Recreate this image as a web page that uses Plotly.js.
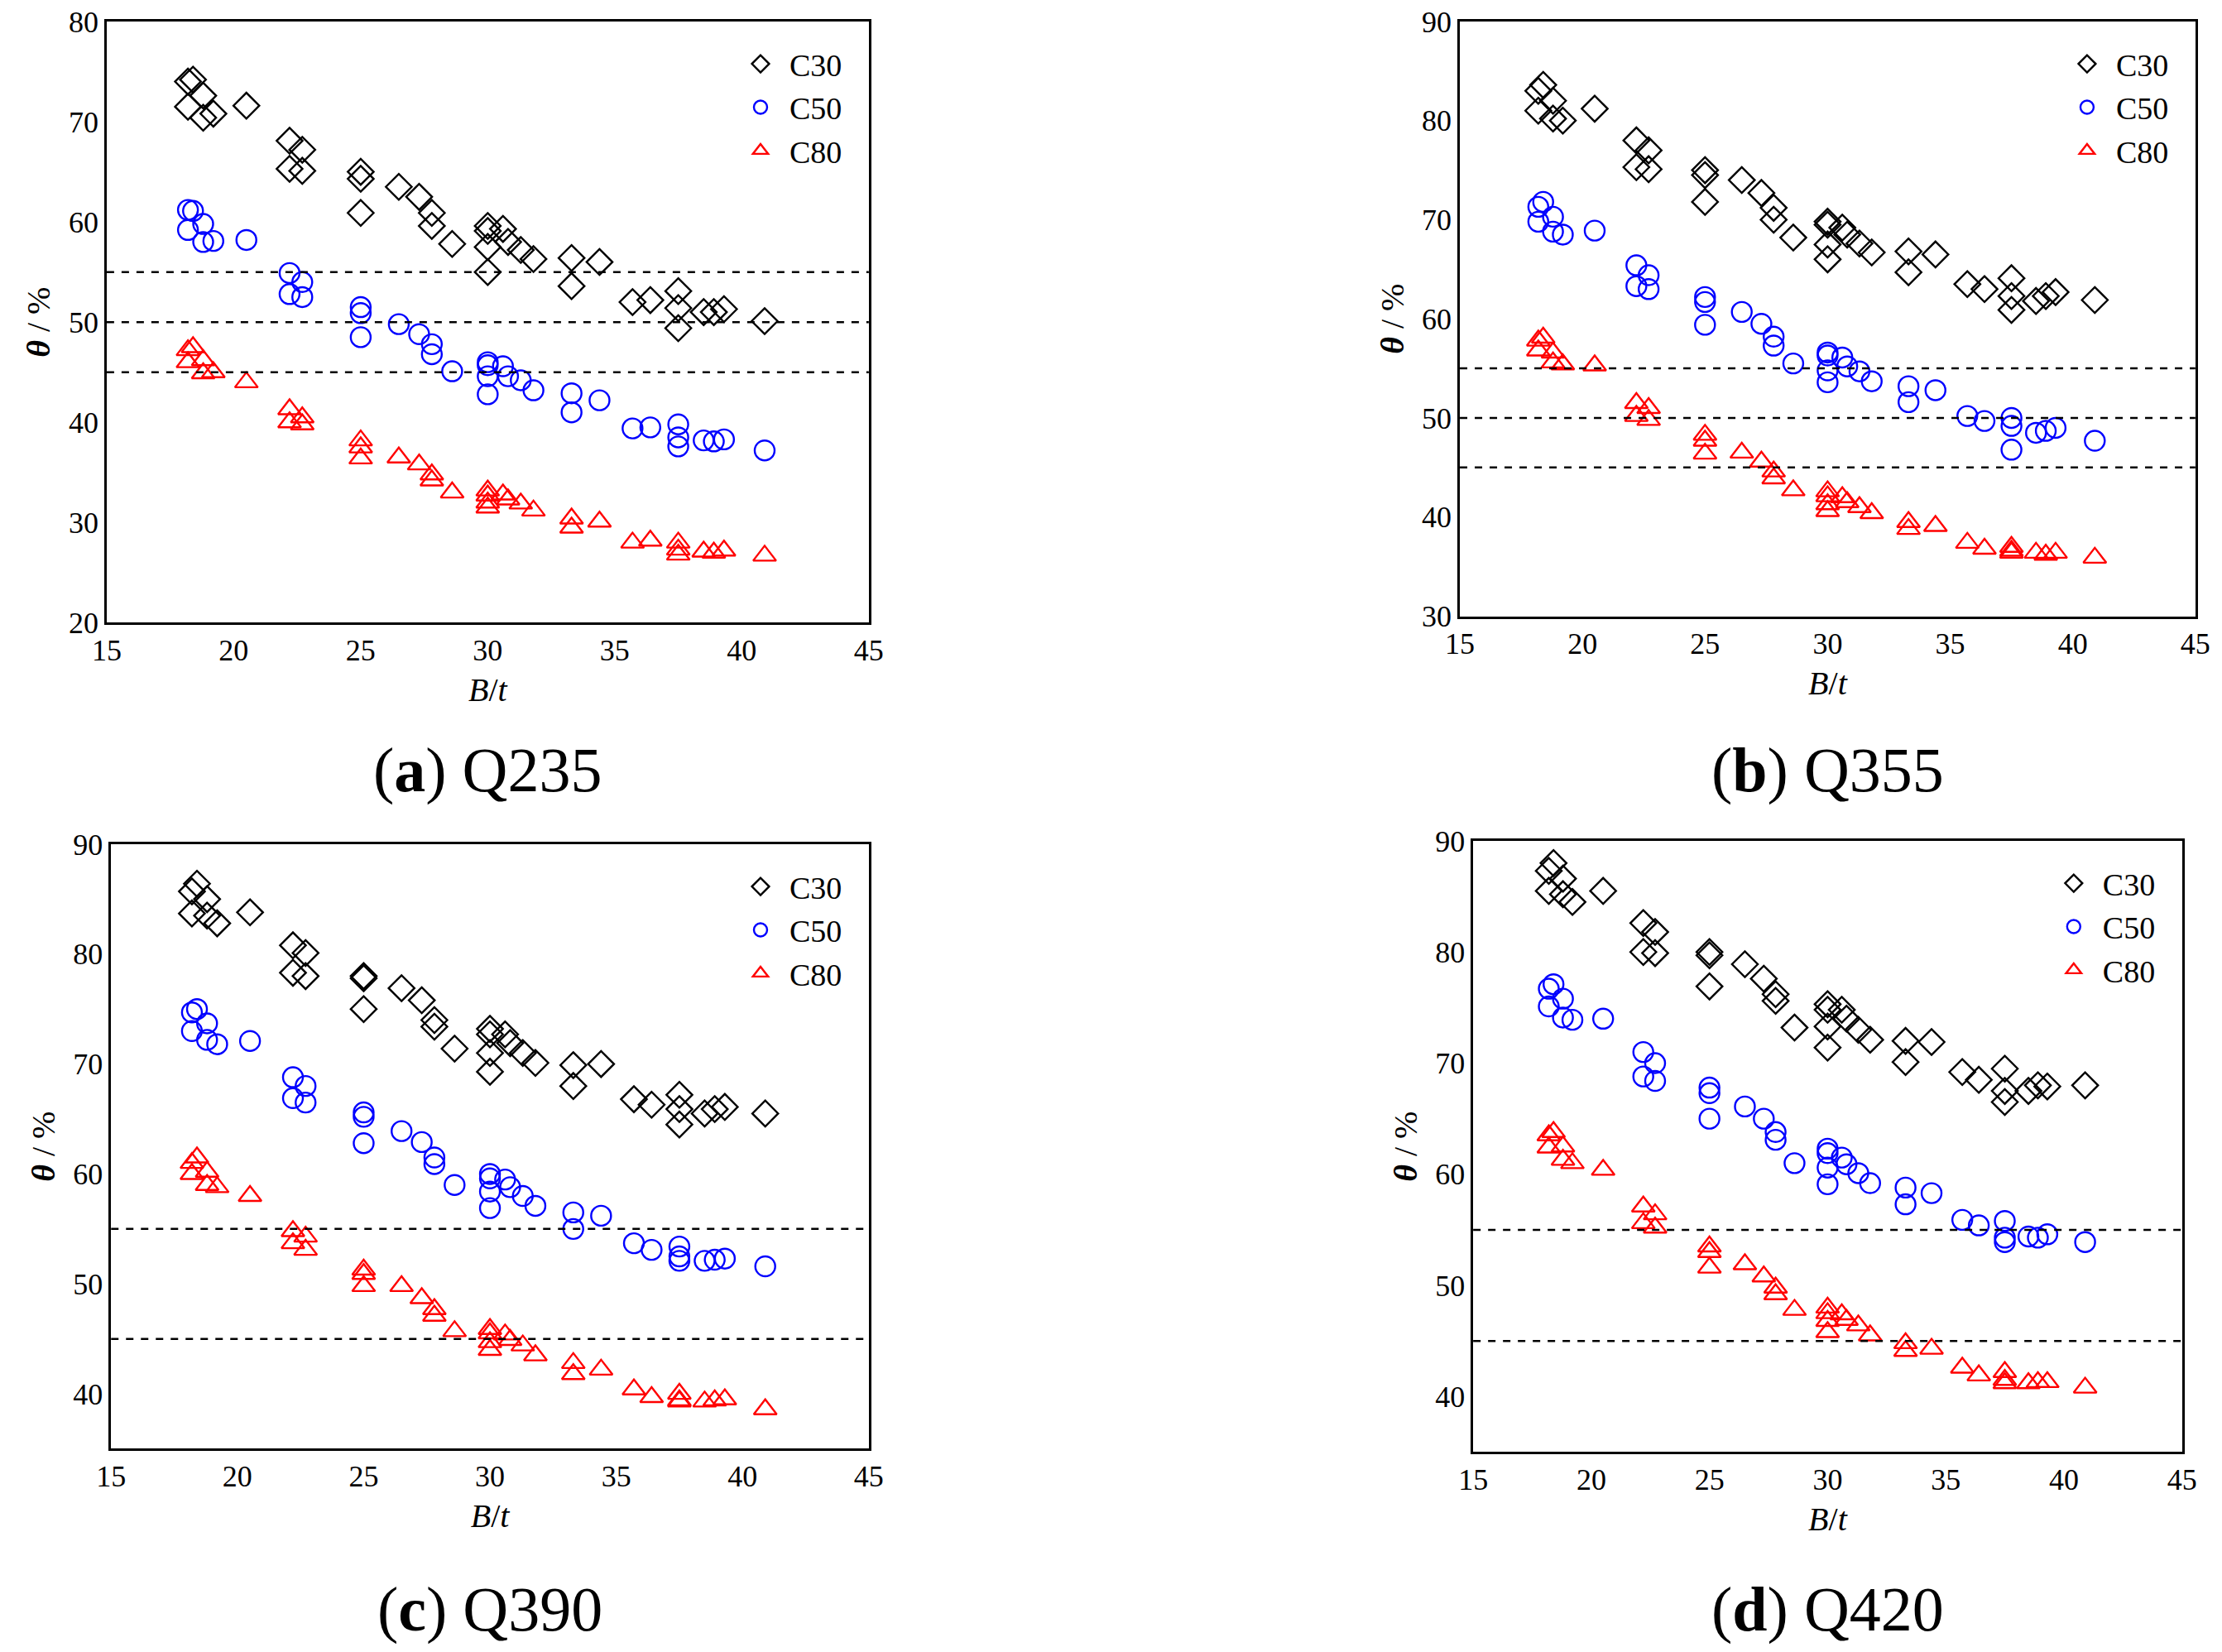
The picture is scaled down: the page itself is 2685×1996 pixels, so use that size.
<!DOCTYPE html>
<html><head><meta charset="utf-8">
<script src="https://cdn.plot.ly/plotly-3.0.1.min.js"></script>
<style>body{margin:0}#chart{width:2685px;height:1996px}</style>
</head><body><div id="chart"></div>
<script>
// B/t values shared by all panels
const bt = [18.2,18.4,18.2,18.8,18.8,19.2,20.5,22.2,22.2,22.7,22.7,25,25,25,26.5,27.3,27.8,27.8,28.6,30,30,30,30,30.6,30.8,31.3,31.8,33.3,33.3,34.4,35.7,36.4,37.5,37.5,37.5,38.5,38.9,39.3,40.9];

// (a) Q235
const aC30 = [74,74.2,71.5,72.6,70.4,70.8,71.6,68.1,65.3,67.2,65.1,65,64.3,60.9,63.5,62.5,60.9,59.6,57.8,59.6,59.1,57.5,55,59.3,58,57.2,56.3,56.4,53.6,56,52,52.2,53.1,51.4,49.4,51,51,51.3,50.1];
const aC50 = [61.2,61.1,59.2,59.8,58,58.1,58.2,54.9,52.8,54,52.5,51.5,50.9,48.5,49.8,48.8,47.8,46.8,45.1,46,45.7,44.6,42.8,45.6,44.6,44.2,43.2,42.9,41,42.2,39.4,39.5,39.8,38.5,37.6,38.2,38.1,38.3,37.2];
const aC80 = [47.2,47.5,46,46.2,44.9,45,44,41.3,40,40.5,39.8,38.2,37.5,36.4,36.5,35.8,34.8,34.2,33,33.2,32.7,32,31.5,32.8,32.3,31.9,31.2,30.4,29.5,30.1,28,28.2,28,27.3,26.8,27.1,27,27.2,26.7];
// (b) Q355
const bC30 = [83,83.6,81,82,80.2,80,81.2,78,75.3,77,75.1,75,74.5,71.8,74,72.7,71.2,70,68.2,69.8,69.5,67.5,66,69.2,68.5,67.6,66.7,66.8,64.7,66.5,63.5,63,64.1,62.3,60.9,61.8,62.3,62.7,61.9];
const bC50 = [71.3,71.8,69.8,70.3,68.8,68.5,68.9,65.4,63.3,64.4,63,62.2,61.7,59.4,60.7,59.5,58.2,57.3,55.5,56.6,56.3,54.8,53.6,56.1,55.2,54.7,53.7,53.2,51.6,52.8,50.2,49.7,50,49.2,46.8,48.5,48.7,49,47.7];
const bC80 = [57.8,58.1,56.8,56.6,55.6,55.4,55.3,51.5,50.2,51,49.8,48.3,47.7,46.4,46.5,45.6,44.6,43.9,42.7,42.6,42.1,41.3,40.6,42,41.5,41,40.4,39.5,38.8,39.1,37.4,36.8,37,36.6,36.4,36.4,36.2,36.4,35.9];
// (c) Q390
const cC30 = [85.7,86.4,83.7,85,83.5,82.8,83.8,80.8,78.3,80.1,78,78,77.8,75,76.9,75.8,74,73.4,71.4,73.2,72.7,71,69.3,72.7,71.9,71,70.1,69.9,68,70,66.8,66.3,67.2,65.9,64.5,65.5,65.9,66.1,65.5];
const cC50 = [74.7,75,73,73.7,72.2,71.8,72.1,68.8,66.9,68,66.5,65.6,65.2,62.8,63.9,62.9,61.5,60.9,59,60,59.6,58.4,56.9,59.5,58.8,58,57.1,56.5,55,56.2,53.7,53.1,53.4,52.5,52.1,52.1,52.2,52.3,51.6];
const cC80 = [61,61.5,60,60.2,59,58.8,58,54.8,53.7,54.3,53.1,51.3,50.9,49.8,49.8,48.7,47.7,47.1,45.7,45.9,45.5,44.7,44,45.4,44.9,44.4,43.5,42.8,41.8,42.2,40.4,39.7,40,39.4,39.3,39.3,39.4,39.5,38.6];
// (d) Q420
const dC30 = [87.3,88,85.5,86.6,85.2,84.5,85.5,82.6,80,81.8,79.9,80,79.7,76.9,78.9,77.6,76.2,75.6,73.2,75.3,74.8,73.3,71.4,74.8,74,73,72.1,72,70.1,71.9,69.2,68.5,69.5,67.5,66.5,67.5,68,67.9,68];
const dC50 = [76.7,77.1,75.1,75.8,74.1,73.9,74,71,68.8,70,68.4,67.8,67.3,65,66.1,65,63.8,63.1,61,62.3,61.9,60.6,59.1,61.5,60.9,60.1,59.2,58.8,57.3,58.3,55.9,55.4,55.8,54.3,53.9,54.4,54.3,54.6,53.9];
const dC80 = [63.5,63.8,62.4,62.5,61.3,61,60.4,57.1,55.6,56.4,55.2,53.5,53,51.6,51.9,50.8,49.8,49.2,47.8,48,47.5,46.8,45.8,47.4,46.9,46.4,45.5,44.8,44.1,44.3,42.6,41.9,42.2,41.5,41.2,41.2,41.3,41.3,40.8];

const panelLabels = ['(a) Q235','(b) Q355','(c) Q390','(d) Q420'];
const limitLines = [[45,50,55],[45,50,55],[45,55],[45,55]];
const yRanges = [[20,80],[30,90],[35,90],[35,90]];
const yTicks = [[20,30,40,50,60,70,80],[30,40,50,60,70,80,90],[40,50,60,70,80,90],[40,50,60,70,80,90]];

const panels = [[aC30,aC50,aC80],[bC30,bC50,bC80],[cC30,cC50,cC80],[dC30,dC50,dC80]];
const names = ['C30','C50','C80'];
const symbols = ['diamond-open','circle-open','triangle-up-open'];
const colors = ['#000000','#0000ff','#ff0000'];

// domains [x0,x1,y0,y1] and label heights
const doms = [[0.048,0.391,0.623,0.987],[0.657,0.988,0.627,0.987],[0.050,0.391,0.123,0.489],[0.663,0.982,0.121,0.491]];
const labelY = [0.534,0.534,0.026,0.026];
const font = 'Liberation Serif, Times New Roman, serif';

const traces = [];
const layout = {width:2685,height:1996,margin:{l:0,r:0,t:0,b:0},paper_bgcolor:'white',plot_bgcolor:'white',
  font:{family:font,size:36,color:'black'},showlegend:true,shapes:[],annotations:[]};

panels.forEach((series,p)=>{
  const sx = p===0?'':String(p+1);
  const lg = p===0?'legend':'legend'+(p+1);
  series.forEach((ys,i)=>{
    traces.push({x:bt,y:ys,type:'scatter',mode:'markers',name:names[i],xaxis:'x'+sx,yaxis:'y'+sx,legend:lg,
      marker:{symbol:symbols[i],size:24,color:colors[i],line:{width:2.4,color:colors[i]}}});
  });
  const d = doms[p];
  const ax = {showline:true,mirror:true,linecolor:'black',linewidth:2.5,showgrid:false,zeroline:false,
    ticks:'inside',ticklen:0,tickfont:{size:36,family:font}};
  layout['xaxis'+sx] = Object.assign({},ax,{domain:[d[0],d[1]],range:[15,45],dtick:5,anchor:'y'+sx,
    title:{text:'<i>B</i>/<i>t</i>',font:{size:40,family:font},standoff:14}});
  layout['yaxis'+sx] = Object.assign({},ax,{domain:[d[2],d[3]],range:yRanges[p],tickvals:yTicks[p],anchor:'x'+sx,
    title:{text:'<b><i>θ</i></b> / %',font:{size:40,family:font},standoff:10}});
  layout[lg] = {x:d[1]-0.01,xanchor:'right',y:d[3]-0.01,yanchor:'top',bgcolor:'rgba(0,0,0,0)',
    font:{size:38,family:font},itemwidth:60,tracegroupgap:4};
  limitLines[p].forEach(v=>{
    layout.shapes.push({type:'line',xref:'x'+sx+' domain',yref:'y'+sx,x0:0,x1:1,y0:v,y1:v,
      line:{color:'black',width:2.5,dash:'dash'}});
  });
  const lbl = panelLabels[p].replace(/^\((.)\)/,'(<b>$1</b>)');
  layout.annotations.push({text:lbl,xref:'paper',yref:'paper',x:(d[0]+d[1])/2,y:labelY[p],xanchor:'center',
    yanchor:'middle',showarrow:false,font:{size:76,family:font}});
});

Plotly.newPlot('chart',traces,layout,{displayModeBar:false});
</script></body></html>
